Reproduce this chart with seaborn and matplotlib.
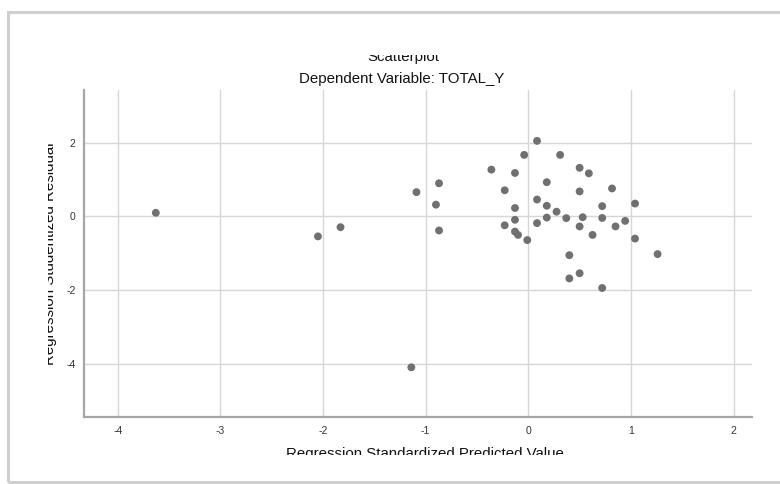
import matplotlib
matplotlib.use("Agg")
import matplotlib.pyplot as plt
import seaborn as sns
import pandas as pd
from matplotlib.patches import Rectangle
from matplotlib.transforms import Bbox, TransformedBbox

# ---- data ----
pred_std = [-3.63, -2.05, -1.83, -1.14, -1.09, -0.90, -0.87, -0.87, -0.36, -0.23,
            -0.23, -0.13, -0.13, -0.13, -0.13, -0.10, -0.04, -0.01, 0.085, 0.085,
            0.085, 0.18, 0.18, 0.18, 0.275, 0.31, 0.37, 0.40, 0.40, 0.50,
            0.50, 0.50, 0.50, 0.53, 0.59, 0.626, 0.72, 0.72, 0.72, 0.816,
            0.85, 0.944, 1.04, 1.04, 1.26]
resid_stud = [0.10, -0.54, -0.29, -4.09, 0.66, 0.32, 0.90, -0.38, 1.27, 0.71,
              -0.24, 1.18, 0.23, -0.09, -0.41, -0.50, 1.67, -0.64, 2.05, 0.46,
              -0.18, 0.93, 0.29, -0.03, 0.13, 1.67, -0.045, -1.05, -1.68, 1.32,
              0.68, -0.27, -1.54, -0.02, 1.17, -0.50, 0.28, -0.04, -1.94, 0.76,
              -0.27, -0.12, 0.35, -0.60, -1.02]
x_ticks = [-4, -3, -2, -1, 0, 1, 2]
y_ticks = [-4, -2, 0, 2]
title_main = "Scatterplot"
title_sub = "Dependent Variable: TOTAL_Y"
x_label = "Regression Standardized Predicted Value"
y_label = "Regression Studentized Residual"

df = pd.DataFrame({"x": pred_std, "y": resid_stud})

sns.set_style("white")
plt.rcParams["font.family"] = ["Liberation Sans", "DejaVu Sans"]

W, H = 780, 484
fig = plt.figure(figsize=(W / 100, H / 100), dpi=100)
fig.patch.set_facecolor("white")

def fx(px):
    return px / W

def fy(py):
    return 1 - py / H

left, right, top, bottom = 84, 752, 90, 416.7
ax = fig.add_axes([fx(left), fy(bottom), fx(right - left), (bottom - top) / H])

sns.scatterplot(data=df, x="x", y="y", ax=ax, color="#707070", s=32,
                edgecolor="none", zorder=3)

ax.set_xlim(-4.33, 2.18)
ax.set_ylim(-5.43, 3.43)
ax.set_xticks(x_ticks)
ax.set_yticks(y_ticks)
ax.set_xticklabels([str(v) for v in x_ticks])
ax.set_yticklabels([str(v) for v in y_ticks])
ax.grid(True, color="#d6d6d6", linewidth=1.0)
ax.set_axisbelow(True)
for s in ["top", "right"]:
    ax.spines[s].set_visible(False)
for s in ["left", "bottom"]:
    ax.spines[s].set_color("#a6a6a6")
    ax.spines[s].set_linewidth(1.6)
ax.tick_params(axis="both", length=0, labelsize=7.5, labelcolor="#333333")
ax.tick_params(axis="x", pad=7)
ax.tick_params(axis="y", pad=6)

ax.set_xlabel("")
ax.set_ylabel("")

# titles / labels placed like the screenshot, partially cropped
t1 = fig.text(fx(403), fy(57), title_main, ha="center", va="center",
              fontsize=10.8, color="#111111")
t2 = fig.text(fx(402), fy(79), title_sub, ha="center", va="center",
              fontsize=10.8, color="#111111")
xl = fig.text(fx(425), fy(454), x_label, ha="center", va="center",
              fontsize=10.8, color="#111111")
yl = fig.text(fx(50), fy(254), y_label, ha="center", va="center",
              rotation=90, fontsize=10.8, color="#111111")

t1.set_clip_box(TransformedBbox(Bbox([[0, 0], [1, fy(55)]]), fig.transFigure))
t1.set_clip_on(True)
xl.set_clip_box(TransformedBbox(Bbox([[0, fy(455)], [1, 1]]), fig.transFigure))
xl.set_clip_on(True)
yl.set_clip_box(TransformedBbox(Bbox([[fx(47.5), 0], [1, 1]]), fig.transFigure))
yl.set_clip_on(True)

# screenshot frame
fig.patches.append(Rectangle((fx(8), fy(482)), fx(800) - fx(8), fy(12) - fy(482),
                             transform=fig.transFigure, fill=False,
                             edgecolor="#cfcfcf", linewidth=2.2, zorder=0))

fig.savefig("out.png", dpi=100)
